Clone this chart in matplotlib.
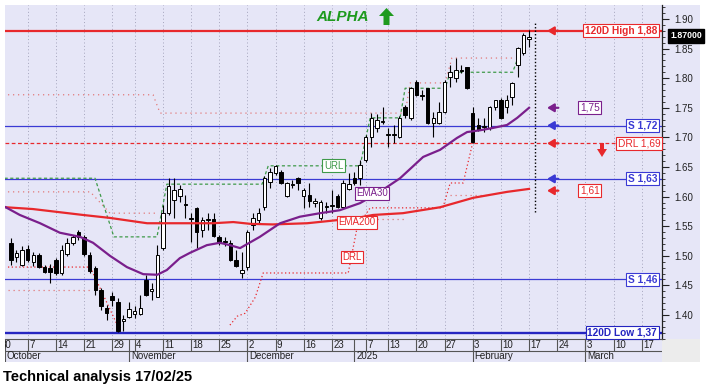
import matplotlib
matplotlib.use("Agg")
import matplotlib.pyplot as plt
from matplotlib.patches import Rectangle, Polygon
from matplotlib.ticker import MultipleLocator
import numpy as np

plt.rcParams['font.family'] = ['Liberation Sans', 'DejaVu Sans']

# ---------------- data (trading-day index 0 = 2 Oct 2024) ----------------
opens = [1.522, 1.498, 1.485, 1.512, 1.490, 1.501, 1.481, 1.479, 1.493, 1.471,
         1.503, 1.522, 1.540, 1.532, 1.501, 1.479, 1.442, 1.412, 1.432, 1.422,
         1.390, 1.397, 1.402, 1.402, 1.459, 1.441, 1.430, 1.513, 1.572, 1.594,
         1.601, 1.588, 1.564, 1.581, 1.544, 1.561, 1.562, 1.532, 1.525, 1.522,
         1.493, 1.471, 1.481, 1.552, 1.561, 1.582, 1.625, 1.640, 1.642, 1.601,
         1.620, 1.631, 1.601, 1.603, 1.589, 1.564, 1.582, 1.584, 1.601, 1.582,
         1.613, 1.631, 1.631, 1.662, 1.701, 1.716, 1.726, 1.704, 1.704, 1.701,
         1.751, 1.733, 1.794, 1.772, 1.783, 1.724, 1.724, 1.743, 1.802, 1.800,
         1.814, 1.819, 1.741, 1.721, 1.718, 1.716, 1.751, 1.763, 1.751, 1.768,
         1.822, 1.843, 1.866]
closes = [1.493, 1.505, 1.510, 1.493, 1.501, 1.481, 1.473, 1.473, 1.471, 1.510,
          1.522, 1.532, 1.532, 1.503, 1.474, 1.442, 1.415, 1.403, 1.425, 1.373,
          1.393, 1.410, 1.407, 1.412, 1.434, 1.444, 1.501, 1.572, 1.618, 1.611,
          1.613, 1.586, 1.562, 1.540, 1.561, 1.562, 1.533, 1.522, 1.523, 1.493,
          1.483, 1.476, 1.540, 1.564, 1.572, 1.631, 1.642, 1.652, 1.623, 1.623,
          1.621, 1.623, 1.611, 1.593, 1.593, 1.591, 1.584, 1.586, 1.582, 1.623,
          1.621, 1.623, 1.653, 1.701, 1.733, 1.729, 1.728, 1.706, 1.706, 1.733,
          1.738, 1.783, 1.772, 1.770, 1.724, 1.733, 1.743, 1.794, 1.811, 1.814,
          1.812, 1.783, 1.692, 1.713, 1.719, 1.751, 1.763, 1.733, 1.763, 1.792,
          1.851, 1.873, 1.870]
highs = [1.530, 1.510, 1.517, 1.518, 1.506, 1.505, 1.485, 1.486, 1.496, 1.518,
         1.530, 1.535, 1.544, 1.535, 1.506, 1.483, 1.446, 1.417, 1.439, 1.429,
         1.400, 1.422, 1.415, 1.434, 1.468, 1.454, 1.518, 1.586, 1.631, 1.631,
         1.620, 1.603, 1.572, 1.582, 1.566, 1.572, 1.572, 1.535, 1.532, 1.527,
         1.510, 1.506, 1.544, 1.572, 1.581, 1.635, 1.648, 1.653, 1.645, 1.625,
         1.628, 1.633, 1.615, 1.623, 1.598, 1.594, 1.591, 1.611, 1.604, 1.628,
         1.640, 1.642, 1.662, 1.704, 1.741, 1.740, 1.751, 1.716, 1.721, 1.736,
         1.755, 1.785, 1.797, 1.780, 1.783, 1.743, 1.760, 1.797, 1.822, 1.834,
         1.822, 1.819, 1.751, 1.733, 1.733, 1.753, 1.763, 1.767, 1.772, 1.794,
         1.853, 1.876, 1.881]
lows = [1.485, 1.490, 1.483, 1.490, 1.483, 1.479, 1.471, 1.454, 1.468, 1.468,
        1.500, 1.518, 1.527, 1.500, 1.471, 1.434, 1.408, 1.392, 1.415, 1.371,
        1.373, 1.395, 1.395, 1.400, 1.432, 1.425, 1.430, 1.510, 1.569, 1.564,
        1.591, 1.564, 1.523, 1.513, 1.532, 1.544, 1.532, 1.518, 1.517, 1.491,
        1.481, 1.463, 1.476, 1.544, 1.555, 1.577, 1.615, 1.637, 1.621, 1.599,
        1.615, 1.611, 1.581, 1.582, 1.582, 1.561, 1.572, 1.572, 1.581, 1.581,
        1.611, 1.620, 1.620, 1.658, 1.684, 1.709, 1.723, 1.684, 1.691, 1.699,
        1.733, 1.729, 1.770, 1.763, 1.723, 1.701, 1.723, 1.741, 1.785, 1.794,
        1.809, 1.782, 1.691, 1.711, 1.709, 1.713, 1.746, 1.731, 1.741, 1.755,
        1.802, 1.839, 1.853]

ema30_idx = [-0.9, 1.6, 5.2, 8.7, 12.3, 14.6, 17.6, 20.6, 23.5, 26.0, 27.7, 30.0,
             31.8, 34.8, 37.1, 38.9, 40.7, 44.2, 47.8, 51.3, 54.9, 58.4, 62.0,
             65.5, 69.1, 73.2, 76.2, 79.2, 81.0, 83.3, 85.6, 88.1, 89.9, 92.0]
ema30_val = [1.582, 1.569, 1.555, 1.539, 1.532, 1.522, 1.500, 1.481, 1.469, 1.468,
             1.476, 1.496, 1.505, 1.518, 1.522, 1.518, 1.513, 1.532, 1.555, 1.566,
             1.572, 1.577, 1.589, 1.608, 1.631, 1.667, 1.679, 1.699, 1.709, 1.712,
             1.716, 1.721, 1.733, 1.750]
ema200_idx = [-0.9, 3.9, 12.8, 17.6, 24.2, 30.0, 35.9, 39.5, 42.5, 46.5, 52.6,
              56.7, 61.5, 64.3, 69.6, 76.2, 82.1, 88.1, 92.0]
ema200_val = [1.582, 1.579, 1.569, 1.564, 1.555, 1.555, 1.555, 1.557, 1.554, 1.553,
              1.555, 1.559, 1.564, 1.569, 1.572, 1.582, 1.598, 1.608, 1.613]

url_idx = [-1.1, 14.95, 18.3, 25.95, 27.7, 44.6, 45.7, 62.0, 63.8, 69.1, 70.0,
           77.1, 78.0, 89.1, 90.0]
url_val = [1.631, 1.631, 1.532, 1.532, 1.621, 1.621, 1.652, 1.652, 1.733, 1.733,
           1.783, 1.783, 1.810, 1.810, 1.834]
drl_idx = [-0.5, 14.1, 19.3, np.nan, 38.9, 40.2, 41.6, 43.4, 44.8, 59.9, 61.5,
           63.8, 76.7, 78.0, 80.3, 82.0]
drl_val = [1.481, 1.481, 1.375, np.nan, 1.383, 1.398, 1.403, 1.430, 1.471, 1.471,
           1.549, 1.581, 1.581, 1.623, 1.623, 1.691]
band_up_idx = [-0.5, 25.25, 26.5, 70.0, 70.9, 77.1, 78.3, 89.1]
band_up_val = [1.772, 1.772, 1.741, 1.741, 1.792, 1.792, 1.834, 1.834]
band_mid_idx = [-0.5, 14.1, 17.6, 25.95]
band_mid_val = [1.608, 1.608, 1.572, 1.572]
band_low_idx = [-0.5, 14.1, np.nan, 65.0, 70.3, np.nan, 78.0, 84.5]
band_low_val = [1.442, 1.442, np.nan, 1.562, 1.562, np.nan, 1.603, 1.603]

week_idx = [-2, 3, 8, 13, 18, 22, 27, 32, 37, 42, 47, 52, 57, 63, 67, 72, 77,
            82, 87, 92, 97, 102, 107, 112]
week_lbl = ['30', '7', '14', '21', '29', '4', '11', '18', '25', '2', '9', '16',
            '23', '7', '13', '20', '27', '3', '10', '17', '24', '3', '10', '17']
month_idx = [-1, 21, 42, 61, 82, 102]
month_lbl = ['October', 'November', 'December', '2025', 'February', 'March']

ytick_vals = [1.40, 1.45, 1.50, 1.55, 1.60, 1.65, 1.70, 1.75, 1.80, 1.85, 1.90]

level_vals = [1.88, 1.72, 1.69, 1.63, 1.46, 1.37]
level_lbls = ['120D High 1,88', 'S 1,72', 'DRL 1,69', 'S 1,63', 'S 1,46', '120D Low 1,37']
marker_vals = [1.75, 1.61]
marker_lbls = ['1,75', '1,61']
arrow_vals = [1.88, 1.75, 1.72, 1.69, 1.63, 1.61]
today_idx = 93

# ---------------- style ----------------
W, H = 707, 385
BG = '#e6e6f7'
RED = '#e8282c'
BLUE = '#3a3ad4'
DBLUE = '#2424c0'
PURPLE = '#7a1f8c'
GREEN = '#1e9a1e'
URLC = '#3f9a4a'
PINK = '#e27a7a'

fig = plt.figure(figsize=(W / 100, H / 100), dpi=100)
fig.patch.set_facecolor('white')


def fx(px):
    return px / W


def fy(py):
    return 1 - py / H


fig.patches.append(Rectangle((fx(5), fy(362)), fx(700) - fx(5), fy(5) - fy(362),
                             transform=fig.transFigure, facecolor=BG,
                             edgecolor='none', zorder=-10))
fig.patches.append(Rectangle((fx(662), fy(362)), fx(700) - fx(662), fy(339) - fy(362),
                             transform=fig.transFigure, facecolor='#ececec',
                             edgecolor='none', zorder=-9))

X0, X1 = -1.03, 115.6
Y0, Y1 = 1.3595, 1.9236

ax = fig.add_axes([fx(5), fy(339), fx(662) - fx(5), fy(5) - fy(339)])
ax.set_facecolor('none')
ax.set_xlim(X0, X1)
ax.set_ylim(Y0, Y1)
for s in ['left', 'top']:
    ax.spines[s].set_visible(False)
ax.spines['right'].set_color('#222222')
ax.spines['bottom'].set_color('#555555')
ax.spines['right'].set_linewidth(0.9)
ax.spines['bottom'].set_linewidth(0.8)
ax.set_xticks([])
ax.yaxis.tick_right()
ax.set_yticks(ytick_vals)
ax.set_yticklabels([f'{v:.2f}' for v in ytick_vals])
ax.yaxis.set_minor_locator(MultipleLocator(0.01))
ax.tick_params(axis='y', which='major', length=5, width=0.8, pad=4,
               labelsize=7, colors='#222222')
ax.tick_params(axis='y', which='minor', length=2.5, width=0.6, colors='#222222')

# week grid
ax.vlines(week_idx, Y0, Y1, colors='#a4a4bc', linestyles=(0, (1, 2.5)),
          lw=0.7, zorder=1)

# horizontal levels
lv_style = {1.88: (RED, 1.6, '-'), 1.72: (BLUE, 0.9, '-'),
            1.69: (RED, 0.9, (0, (3, 2))), 1.63: (BLUE, 0.9, '-'),
            1.46: (BLUE, 0.9, '-'), 1.37: (DBLUE, 1.7, '-')}
for v in level_vals:
    c, lw, ls = lv_style[v]
    ax.axhline(v, color=c, lw=lw, ls=ls, zorder=2)

# step lines
ax.plot(band_up_idx, band_up_val, color=PINK, lw=0.9, ls=(0, (1, 3)), zorder=2)
ax.plot(band_mid_idx, band_mid_val, color=PINK, lw=0.9, ls=(0, (1, 3)), zorder=2)
ax.plot(band_low_idx, band_low_val, color=PINK, lw=0.9, ls=(0, (1, 3)), zorder=2)
ax.plot(url_idx, url_val, color=URLC, lw=0.9, ls=(0, (2.5, 2)), zorder=2)
ax.plot(drl_idx, drl_val, color=RED, lw=0.9, ls=(0, (1, 2)), zorder=2)

# candles
bw = 0.62
for i, (o, h, l, c) in enumerate(zip(opens, highs, lows, closes)):
    ax.vlines(i, l, h, colors='black', lw=0.8, zorder=3)
    lo = min(o, c)
    ht = max(abs(c - o), 0.0015)
    fc = 'white' if c >= o else 'black'
    ax.add_patch(Rectangle((i - bw / 2, lo), bw, ht, facecolor=fc,
                           edgecolor='black', lw=0.7, zorder=3.5))

# EMAs
ax.plot(ema200_idx, ema200_val, color=RED, lw=1.6, zorder=4)
ax.plot(ema30_idx, ema30_val, color=PURPLE, lw=1.6, zorder=4)

# today line
ax.vlines(today_idx, 1.574, 1.895, colors='black', linestyles=(0, (1, 1.5)),
          lw=1.0, zorder=4)


# in-chart labels
def boxlabel(x, y, s, c, **kw):
    ax.text(x, y, s, color=c, fontsize=kw.pop('fontsize', 7), ha=kw.pop('ha', 'center'),
            va='center', zorder=6,
            bbox=dict(boxstyle='square,pad=0.15', fc='white', ec=c, lw=0.8), **kw)


boxlabel(57.3, 1.6525, 'URL', URLC)
boxlabel(64.1, 1.606, 'EMA30', PURPLE)
boxlabel(61.5, 1.557, 'EMA200', RED)
boxlabel(60.6, 1.498, 'DRL', RED)

# right side labels
lv_col = {1.88: RED, 1.72: BLUE, 1.69: RED, 1.63: BLUE, 1.46: BLUE, 1.37: DBLUE}
for v, s in zip(level_vals, level_lbls):
    bold = not s.startswith('DRL')
    xr = 115.3 if s.startswith('DRL') else 114.75
    boxlabel(xr, v, s, lv_col[v], ha='right', fontsize=7.3 if bold else 7.3,
             fontweight='bold' if bold else 'normal')
mk_col = {1.75: PURPLE, 1.61: RED}
for v, s in zip(marker_vals, marker_lbls):
    boxlabel(102.8, v, s, mk_col[v], fontsize=7.3)

ar_col = {1.88: RED, 1.75: PURPLE, 1.72: BLUE, 1.69: RED, 1.63: BLUE, 1.61: RED}
for v in arrow_vals:
    ax.annotate('', xy=(95.2, v), xytext=(97.2, v),
                arrowprops=dict(arrowstyle='-|>,head_length=0.5,head_width=0.3',
                                color=ar_col[v], lw=1.6, mutation_scale=8,
                                shrinkA=0, shrinkB=0), zorder=6)

# date axis
ax_d = fig.add_axes([fx(5), fy(362), fx(662) - fx(5), fy(339) - fy(362)])
ax_d.set_xlim(X0, X1)
ax_d.set_ylim(0, 1)
ax_d.axis('off')
ax_d.axhline(0.49, color='#555555', lw=0.8)
ax_d.vlines(week_idx, 0.49, 1, colors='#555555', lw=0.8)
ax_d.vlines(month_idx, 0, 1, colors='#555555', lw=0.8)
for i, s in zip(week_idx, week_lbl):
    ax_d.text(i + 0.25, 0.74, s, ha='left', va='center', fontsize=7,
              color='#222222', clip_on=True)
for i, s in zip(month_idx, month_lbl):
    ax_d.text(i + 0.3, 0.24, s, ha='left', va='center', fontsize=7,
              color='#222222', clip_on=True)

# close price tag
fig.text(fx(686), fy(36), f'{closes[-1]:.5f}', ha='center', va='center',
         color='white', fontsize=6.3, fontweight='bold',
         bbox=dict(boxstyle='square,pad=0.25', fc='black', ec='black'))

# title
fig.text(fx(343), fy(17), 'ALPHA', color=GREEN, fontsize=11, fontweight='bold',
         style='italic', ha='center', va='center')


def poly(pts, c):
    fig.patches.append(Polygon([(fx(a), fy(b)) for a, b in pts], closed=True,
                               transform=fig.transFigure, facecolor=c,
                               edgecolor='none', zorder=10))


poly([(379, 16), (386.5, 8), (394, 16), (389.5, 16), (389.5, 25), (383.5, 25),
      (383.5, 16)], GREEN)
poly([(597, 149), (602, 157), (607, 149), (604, 149), (604, 143), (600, 143),
      (600, 149)], RED)

fig.text(fx(3), fy(384), 'Technical analysis 17/02/25', ha='left', va='bottom',
         fontsize=10.5, fontweight='bold', color='black')

fig.savefig('out.png', dpi=100)
